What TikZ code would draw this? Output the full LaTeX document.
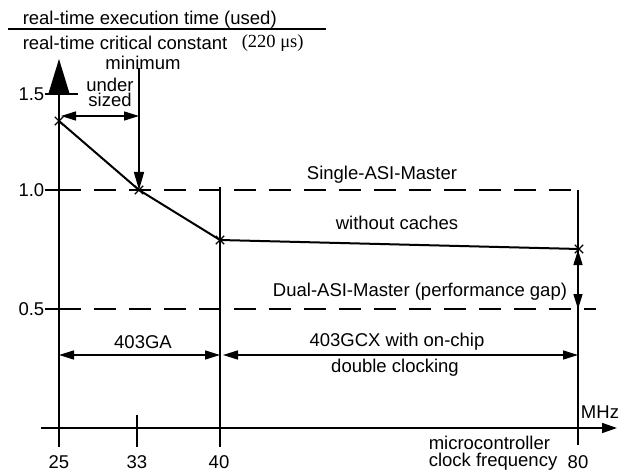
\documentclass[tikz,border=0pt]{standalone}
\usepackage{fontspec}
\setmainfont{Liberation Sans}
\newfontfamily\unitfont{Liberation Serif}
\usetikzlibrary{arrows.meta,shapes.misc}

\begin{document}
\begin{tikzpicture}[x=1pt, y=-1pt, line width=1.5pt,
  every node/.style={font=\fontsize{18.5}{22}\selectfont, inner sep=0pt},
  refline/.style={dashed, dash pattern=on 22pt off 13pt},
  dimline/.style={{Triangle[length=15pt,width=9pt]}-{Triangle[length=15pt,width=9pt]}},
  ptmark/.style={cross out, draw, line width=1.4pt, minimum size=7pt}]
  \useasboundingbox (0,0) rectangle (626,473);
  % ratio on the y axis
  \node[anchor=west] (used) at (22,20) {real-time execution time (used)};
  \draw (8,29) -- (326,29);
  \node[anchor=west] (crit) at (22,43) {real-time critical constant};
  \node[anchor=west] (unit) at (241,43) {\unitfont (220 μs)};
  % axes
  \draw[-{Triangle[length=35pt,width=21pt]}] (59,447) -- (59,59);
  \draw[-{Triangle[length=15pt,width=10pt]}] (41,428) -- (617,428);
  \node (mhz) at (600,412) {MHz};
  \node[anchor=west] (mc) at (428,443) {microcontroller};
  \node[anchor=west] (cf) at (428,462) {clock frequency};
  % y ticks and limits
  \draw (45,94) -- (78,94);
  \draw (45,190) -- (59,190);
  \draw (45,309) -- (59,309);
  \node[anchor=east] (y15) at (45,94) {1.5};
  \node[anchor=east] (y10) at (45,190) {1.0};
  \node[anchor=east] (y05) at (45,309) {0.5};
  \draw[refline] (59,190) -- (583,190);
  \draw[refline] (59,309) -- (596,309);
  \node (single) at (382,175) {Single-ASI-Master};
  \node (dual) at (420,292) {Dual-ASI-Master (performance gap)};
  % x ticks
  \draw (137,415) -- (137,447);
  \draw (220,187) -- (220,447);
  \draw (578,190) -- (578,445);
  \node (x25) at (59,462) {25};
  \node (x33) at (137,462) {33};
  \node (x40) at (219,462) {40};
  \node (x80) at (578,462) {80};
  % measured points
  \node[ptmark] (p25) at (59,121) {};
  \node[ptmark] (p33) at (139,190) {};
  \node[ptmark] (p40) at (220,240) {};
  \node[ptmark] (p80) at (579,249) {};
  \draw[line width=2pt] (p25.center) -- (p33.center) -- (p40.center) -- (p80.center);
  \node (nocache) at (397,223) {without caches};
  % minimum and undersized range
  \node (minimum) at (143,63) {minimum};
  \draw[-{Triangle[length=18pt,width=10pt]}] (139,68) -- (p33.center);
  \node[align=center, font=\fontsize{18.5}{15}\selectfont] (undersized) at (110,92) {under\\sized};
  \draw[dimline] (61,116) -- (139,116);
  % performance gap
  \draw[dimline] (578,250) -- (578,309);
  % processor ranges
  \draw[dimline] (59,355) -- (220,355);
  \draw[dimline] (223,355) -- (578,355);
  \node (ga) at (143,342) {403GA};
  \node (gcx) at (397,342) {403GCX with on-chip};
  \node (dbl) at (395,368) {double clocking};
\end{tikzpicture}
\end{document}
